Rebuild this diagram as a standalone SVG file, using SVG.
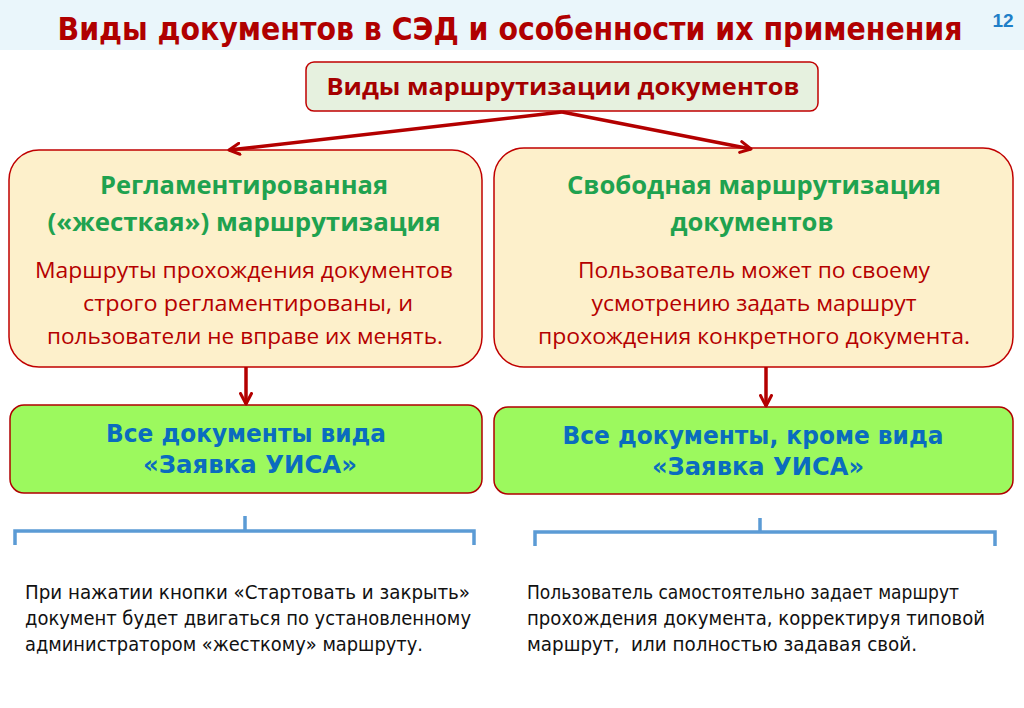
<svg xmlns="http://www.w3.org/2000/svg" width="1024" height="708" viewBox="0 0 1024 708">
<defs>
<marker id="ah" markerWidth="14" markerHeight="14" refX="12" refY="7" orient="auto" markerUnits="userSpaceOnUse" viewBox="0 0 14 14">
<path d="M1.5,1.5 L12,7 L1.5,12.5" fill="none" stroke="#b30000" stroke-width="3" stroke-linecap="round" stroke-linejoin="round"/>
</marker>
<style>
.title{font-family:"Liberation Sans Narrow","DejaVu Sans Condensed","Liberation Sans",sans-serif;font-weight:bold;font-size:32px;fill:#b00000}
.num{font-family:"Liberation Sans Narrow","Liberation Sans",sans-serif;font-weight:bold;font-size:19px;fill:#1f7fc8}
.hdr{font-family:"Open Sans","Noto Sans",sans-serif;font-weight:bold;font-size:23px;fill:#a50000}
.gt{font-family:"Open Sans","Noto Sans",sans-serif;font-weight:bold;font-size:25px;fill:#1fa24f}
.bt{font-family:"Open Sans","Noto Sans",sans-serif;font-size:21px;fill:#b50000}
.bl{font-family:"DejaVu Sans","Liberation Sans",sans-serif;font-weight:bold;font-size:24px;fill:#0a6cbf}
.ft{font-family:"DejaVu Sans Condensed","Liberation Sans Narrow",sans-serif;font-size:20px;fill:#111;white-space:pre}
.cream{fill:#fdf0cb;stroke:#c00000;stroke-width:1.5}
.green{fill:#9cf95e;stroke:#b00000;stroke-width:1.5}
.top{fill:#e6f1df;stroke:#c00000;stroke-width:1.5}
.conn{stroke:#b30000;stroke-width:3.5;fill:none}
.br{stroke:#5b9bd5;stroke-width:3.5;fill:none}
</style>
</defs>
<rect x="0" y="0" width="1024" height="708" fill="#ffffff"/>
<rect x="0" y="0" width="1024" height="50" fill="#eaf6fb"/>
<text class="title" x="510" y="40" text-anchor="middle" textLength="905" lengthAdjust="spacingAndGlyphs">Виды документов в СЭД и особенности их применения</text>
<text class="num" x="1003" y="27" text-anchor="middle">12</text>

<g id="n-top">
<rect class="top" x="306" y="62" width="512" height="49" rx="8"/>
<text class="hdr" x="563" y="95" text-anchor="middle" textLength="473" lengthAdjust="spacingAndGlyphs">Виды маршрутизации документов</text>
</g>

<g id="n-left">
<rect class="cream" x="9" y="150" width="473" height="217" rx="30"/>
<text class="gt" x="244" y="194" text-anchor="middle" textLength="288" lengthAdjust="spacingAndGlyphs">Регламентированная</text>
<text class="gt" x="244" y="231" text-anchor="middle" textLength="393" lengthAdjust="spacingAndGlyphs">(«жесткая») маршрутизация</text>
<text class="bt" x="244" y="278" text-anchor="middle" textLength="418" lengthAdjust="spacingAndGlyphs">Маршруты прохождения документов</text>
<text class="bt" x="248" y="311" text-anchor="middle" textLength="330" lengthAdjust="spacingAndGlyphs">строго регламентированы, и</text>
<text class="bt" x="245" y="344" text-anchor="middle" textLength="396" lengthAdjust="spacingAndGlyphs">пользователи не вправе их менять.</text>
</g>

<g id="n-right">
<rect class="cream" x="494" y="148" width="519" height="219" rx="30"/>
<text class="gt" x="754" y="194" text-anchor="middle" textLength="374" lengthAdjust="spacingAndGlyphs">Свободная маршрутизация</text>
<text class="gt" x="752" y="231" text-anchor="middle" textLength="163" lengthAdjust="spacingAndGlyphs">документов</text>
<text class="bt" x="754" y="278" text-anchor="middle" textLength="352" lengthAdjust="spacingAndGlyphs">Пользователь может по своему</text>
<text class="bt" x="754" y="311" text-anchor="middle" textLength="325" lengthAdjust="spacingAndGlyphs">усмотрению задать маршрут</text>
<text class="bt" x="754" y="344" text-anchor="middle" textLength="432" lengthAdjust="spacingAndGlyphs">прохождения конкретного документа.</text>
</g>

<g id="n-left-green">
<rect class="green" x="10" y="405" width="472" height="88" rx="14"/>
<text class="bl" x="246" y="442" text-anchor="middle" textLength="280" lengthAdjust="spacingAndGlyphs">Все документы вида</text>
<text class="bl" x="250" y="473" text-anchor="middle" textLength="214" lengthAdjust="spacingAndGlyphs">«Заявка УИСА»</text>
</g>

<g id="n-right-green">
<rect class="green" x="494" y="407" width="519" height="87" rx="14"/>
<text class="bl" x="753" y="444" text-anchor="middle" textLength="381" lengthAdjust="spacingAndGlyphs">Все документы, кроме вида</text>
<text class="bl" x="758" y="475" text-anchor="middle" textLength="212" lengthAdjust="spacingAndGlyphs">«Заявка УИСА»</text>
</g>

<g id="connectors">
<line class="conn" x1="562" y1="112" x2="229" y2="150" marker-end="url(#ah)"/>
<line class="conn" x1="562" y1="112" x2="751" y2="149" marker-end="url(#ah)"/>
<line class="conn" x1="246" y1="367" x2="246" y2="404" marker-end="url(#ah)"/>
<line class="conn" x1="766" y1="367" x2="766" y2="406" marker-end="url(#ah)"/>
</g>

<g id="brackets">
<path class="br" d="M15,545 V531 H474 V545 M245,516 V531"/>
<path class="br" d="M535,546 V532 H995 V546 M760,518 V532"/>
</g>

<g id="n-note-left">
<text class="ft" x="25" y="599" textLength="445" lengthAdjust="spacingAndGlyphs">При нажатии кнопки «Стартовать и закрыть»</text>
<text class="ft" x="25" y="625" textLength="446" lengthAdjust="spacingAndGlyphs">документ будет двигаться по установленному</text>
<text class="ft" x="25" y="651" textLength="398" lengthAdjust="spacingAndGlyphs">администратором «жесткому» маршруту.</text>
</g>
<g id="n-note-right">
<text class="ft" x="527" y="599" textLength="432" lengthAdjust="spacingAndGlyphs">Пользователь самостоятельно задает маршрут</text>
<text class="ft" x="527" y="625" textLength="458" lengthAdjust="spacingAndGlyphs">прохождения документа, корректируя типовой</text>
<text class="ft" x="527" y="651" textLength="390" lengthAdjust="spacingAndGlyphs">маршрут,&#160; или полностью задавая свой.</text>
</g>
</svg>
